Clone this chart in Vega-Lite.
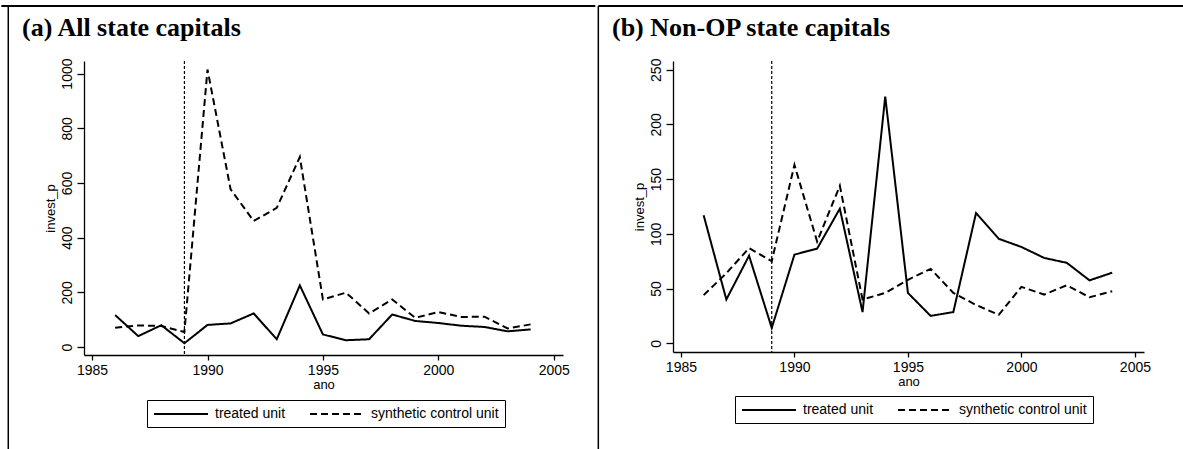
{
  "$schema": "https://vega.github.io/schema/vega-lite/v6.json",
  "background": "white",
  "padding": {"left": 0, "top": 4, "right": 0, "bottom": 0},
  "datasets": {
    "a": [
      {"ano": 1986, "series": "treated unit", "invest_p": 117},
      {"ano": 1987, "series": "treated unit", "invest_p": 40},
      {"ano": 1988, "series": "treated unit", "invest_p": 80},
      {"ano": 1989, "series": "treated unit", "invest_p": 14},
      {"ano": 1990, "series": "treated unit", "invest_p": 81},
      {"ano": 1991, "series": "treated unit", "invest_p": 86.5},
      {"ano": 1992, "series": "treated unit", "invest_p": 123},
      {"ano": 1993, "series": "treated unit", "invest_p": 28.5},
      {"ano": 1994, "series": "treated unit", "invest_p": 225.5},
      {"ano": 1995, "series": "treated unit", "invest_p": 46},
      {"ano": 1996, "series": "treated unit", "invest_p": 25},
      {"ano": 1997, "series": "treated unit", "invest_p": 28.5},
      {"ano": 1998, "series": "treated unit", "invest_p": 119},
      {"ano": 1999, "series": "treated unit", "invest_p": 95.5},
      {"ano": 2000, "series": "treated unit", "invest_p": 88},
      {"ano": 2001, "series": "treated unit", "invest_p": 78},
      {"ano": 2002, "series": "treated unit", "invest_p": 73.5},
      {"ano": 2003, "series": "treated unit", "invest_p": 57.5},
      {"ano": 2004, "series": "treated unit", "invest_p": 64.5},
      {"ano": 1986, "series": "synthetic control unit", "invest_p": 71},
      {"ano": 1987, "series": "synthetic control unit", "invest_p": 79},
      {"ano": 1988, "series": "synthetic control unit", "invest_p": 77},
      {"ano": 1989, "series": "synthetic control unit", "invest_p": 55},
      {"ano": 1990, "series": "synthetic control unit", "invest_p": 1015},
      {"ano": 1991, "series": "synthetic control unit", "invest_p": 577},
      {"ano": 1992, "series": "synthetic control unit", "invest_p": 461},
      {"ano": 1993, "series": "synthetic control unit", "invest_p": 509},
      {"ano": 1994, "series": "synthetic control unit", "invest_p": 695},
      {"ano": 1995, "series": "synthetic control unit", "invest_p": 174},
      {"ano": 1996, "series": "synthetic control unit", "invest_p": 199},
      {"ano": 1997, "series": "synthetic control unit", "invest_p": 123},
      {"ano": 1998, "series": "synthetic control unit", "invest_p": 174},
      {"ano": 1999, "series": "synthetic control unit", "invest_p": 107},
      {"ano": 2000, "series": "synthetic control unit", "invest_p": 128},
      {"ano": 2001, "series": "synthetic control unit", "invest_p": 110},
      {"ano": 2002, "series": "synthetic control unit", "invest_p": 111},
      {"ano": 2003, "series": "synthetic control unit", "invest_p": 68},
      {"ano": 2004, "series": "synthetic control unit", "invest_p": 83}
    ],
    "b": [
      {"ano": 1986, "series": "treated unit", "invest_p": 117},
      {"ano": 1987, "series": "treated unit", "invest_p": 40},
      {"ano": 1988, "series": "treated unit", "invest_p": 80},
      {"ano": 1989, "series": "treated unit", "invest_p": 14},
      {"ano": 1990, "series": "treated unit", "invest_p": 81},
      {"ano": 1991, "series": "treated unit", "invest_p": 86.5},
      {"ano": 1992, "series": "treated unit", "invest_p": 123},
      {"ano": 1993, "series": "treated unit", "invest_p": 28.5},
      {"ano": 1994, "series": "treated unit", "invest_p": 225.5},
      {"ano": 1995, "series": "treated unit", "invest_p": 46},
      {"ano": 1996, "series": "treated unit", "invest_p": 25},
      {"ano": 1997, "series": "treated unit", "invest_p": 28.5},
      {"ano": 1998, "series": "treated unit", "invest_p": 119},
      {"ano": 1999, "series": "treated unit", "invest_p": 95.5},
      {"ano": 2000, "series": "treated unit", "invest_p": 88},
      {"ano": 2001, "series": "treated unit", "invest_p": 78},
      {"ano": 2002, "series": "treated unit", "invest_p": 73.5},
      {"ano": 2003, "series": "treated unit", "invest_p": 57.5},
      {"ano": 2004, "series": "treated unit", "invest_p": 64.5},
      {"ano": 1986, "series": "synthetic control unit", "invest_p": 44},
      {"ano": 1987, "series": "synthetic control unit", "invest_p": 64},
      {"ano": 1988, "series": "synthetic control unit", "invest_p": 87},
      {"ano": 1989, "series": "synthetic control unit", "invest_p": 75},
      {"ano": 1990, "series": "synthetic control unit", "invest_p": 163},
      {"ano": 1991, "series": "synthetic control unit", "invest_p": 93},
      {"ano": 1992, "series": "synthetic control unit", "invest_p": 144},
      {"ano": 1993, "series": "synthetic control unit", "invest_p": 40},
      {"ano": 1994, "series": "synthetic control unit", "invest_p": 46},
      {"ano": 1995, "series": "synthetic control unit", "invest_p": 58},
      {"ano": 1996, "series": "synthetic control unit", "invest_p": 68},
      {"ano": 1997, "series": "synthetic control unit", "invest_p": 46},
      {"ano": 1998, "series": "synthetic control unit", "invest_p": 35},
      {"ano": 1999, "series": "synthetic control unit", "invest_p": 26},
      {"ano": 2000, "series": "synthetic control unit", "invest_p": 51.5},
      {"ano": 2001, "series": "synthetic control unit", "invest_p": 44.5},
      {"ano": 2002, "series": "synthetic control unit", "invest_p": 53},
      {"ano": 2003, "series": "synthetic control unit", "invest_p": 42},
      {"ano": 2004, "series": "synthetic control unit", "invest_p": 47.5}
    ],
    "vline": [{"ano": 1989}],
    "frameA": [{"x1": 1981.07, "x2": 2006.8, "xv": 1981.37, "ytop": 1247, "ybot": -376}],
    "frameB": [{"x1": 1981.36, "x2": 2007.18, "xv": 1981.36, "ytop": 308.3, "ybot": -97.6}]
  },
  "spacing": 0,
  "hconcat": [
    {
      "title": {"text": "(a) All state capitals", "frame": "group", "dx": -62, "offset": -36},
      "width": 479,
      "height": 294,
      "layer": [
        {
          "data": {"name": "frameA"},
          "mark": {"type": "rule", "color": "black", "strokeWidth": 2, "clip": false},
          "encoding": {
            "x": {"field": "x1", "type": "quantitative", "scale": {"domain": [1984.65, 2005.4], "nice": false, "zero": false}},
            "x2": {"field": "x2"},
            "y": {"field": "ytop", "type": "quantitative", "scale": {"domain": [-29, 1046], "nice": false, "zero": false}}
          }
        },
        {
          "data": {"name": "frameA"},
          "mark": {"type": "rule", "color": "black", "strokeWidth": 1.5, "clip": false},
          "encoding": {
            "x": {"field": "xv", "type": "quantitative", "scale": {"domain": [1984.65, 2005.4], "nice": false, "zero": false}},
            "y": {"field": "ytop", "type": "quantitative", "scale": {"domain": [-29, 1046], "nice": false, "zero": false}},
            "y2": {"field": "ybot"}
          }
        },
        {
          "data": {"name": "vline"},
          "mark": {"type": "rule", "color": "black", "strokeWidth": 1.2, "strokeDash": [3, 2]},
          "encoding": {
            "x": {"field": "ano", "type": "quantitative", "scale": {"domain": [1984.65, 2005.4], "nice": false, "zero": false}}
          }
        },
        {
          "data": {"name": "a"},
          "mark": {"type": "line", "color": "black", "strokeWidth": 2},
          "encoding": {
            "x": {"field": "ano", "type": "quantitative", "scale": {"domain": [1984.65, 2005.4], "nice": false, "zero": false}, "axis": {"values": [1985, 1990, 1995, 2000, 2005], "format": "d", "title": "ano"}},
            "y": {"field": "invest_p", "type": "quantitative", "scale": {"domain": [-29, 1046], "nice": false, "zero": false}, "axis": {"values": [0, 200, 400, 600, 800, 1000], "format": "d", "title": "invest_p"}},
            "strokeDash": {"field": "series", "type": "nominal", "scale": {"domain": ["treated unit", "synthetic control unit"], "range": [[1, 0], [7, 4]]}, "legend": {"orient": "none", "legendX": 63, "legendY": 339}}
          }
        }
      ]
    },
    {
      "title": {"text": "(b) Non-OP state capitals", "frame": "group", "dx": -61, "offset": -36},
      "width": 471,
      "height": 291,
      "layer": [
        {
          "data": {"name": "frameB"},
          "mark": {"type": "rule", "color": "black", "strokeWidth": 2, "clip": false},
          "encoding": {
            "x": {"field": "x1", "type": "quantitative", "scale": {"domain": [1984.65, 2005.4], "nice": false, "zero": false}},
            "x2": {"field": "x2"},
            "y": {"field": "ytop", "type": "quantitative", "scale": {"domain": [-8, 258], "nice": false, "zero": false}}
          }
        },
        {
          "data": {"name": "frameB"},
          "mark": {"type": "rule", "color": "black", "strokeWidth": 1.5, "clip": false},
          "encoding": {
            "x": {"field": "xv", "type": "quantitative", "scale": {"domain": [1984.65, 2005.4], "nice": false, "zero": false}},
            "y": {"field": "ytop", "type": "quantitative", "scale": {"domain": [-8, 258], "nice": false, "zero": false}},
            "y2": {"field": "ybot"}
          }
        },
        {
          "data": {"name": "vline"},
          "mark": {"type": "rule", "color": "black", "strokeWidth": 1.2, "strokeDash": [3, 2]},
          "encoding": {
            "x": {"field": "ano", "type": "quantitative", "scale": {"domain": [1984.65, 2005.4], "nice": false, "zero": false}}
          }
        },
        {
          "data": {"name": "b"},
          "mark": {"type": "line", "color": "black", "strokeWidth": 2},
          "encoding": {
            "x": {"field": "ano", "type": "quantitative", "scale": {"domain": [1984.65, 2005.4], "nice": false, "zero": false}, "axis": {"values": [1985, 1990, 1995, 2000, 2005], "format": "d", "title": "ano"}},
            "y": {"field": "invest_p", "type": "quantitative", "scale": {"domain": [-8, 258], "nice": false, "zero": false}, "axis": {"values": [0, 50, 100, 150, 200, 250], "format": "d", "title": "invest_p"}},
            "strokeDash": {"field": "series", "type": "nominal", "scale": {"domain": ["treated unit", "synthetic control unit"], "range": [[1, 0], [7, 4]]}, "legend": {"orient": "none", "legendX": 62, "legendY": 335}}
          }
        }
      ]
    }
  ],
  "resolve": {"scale": {"x": "independent", "y": "independent", "strokeDash": "independent"}, "legend": {"strokeDash": "independent"}},
  "config": {
    "font": "Liberation Sans",
    "view": {"stroke": null},
    "axis": {
      "grid": false,
      "domainColor": "black",
      "domainWidth": 1.3,
      "tickColor": "black",
      "tickWidth": 1.3,
      "labelFont": "'Liberation Sans Narrow', 'Liberation Sans', sans-serif",
      "labelFontSize": 14,
      "labelColor": "black",
      "titleFont": "'Liberation Sans Narrow', 'Liberation Sans', sans-serif",
      "titleFontSize": 13,
      "titleFontWeight": "normal",
      "titleColor": "black"
    },
    "axisX": {"tickSize": 5, "labelPadding": 3, "titlePadding": 1, "labelFlush": false},
    "axisY": {"tickSize": 7, "labelAngle": -90, "labelPadding": 3, "titlePadding": 3},
    "legend": {
      "title": null,
      "direction": "horizontal",
      "strokeColor": "black",
      "padding": 6,
      "labelFont": "Liberation Sans",
      "labelFontSize": 14,
      "labelColor": "black",
      "labelOffset": 46,
      "columnPadding": 20,
      "symbolType": "M-1,0H6.714",
      "symbolSize": 196,
      "symbolStrokeWidth": 1.8,
      "symbolStrokeColor": "black"
    },
    "title": {
      "font": "Liberation Serif",
      "fontSize": 26,
      "fontWeight": "bold",
      "anchor": "start",
      "color": "black",
      "baseline": "alphabetic"
    }
  }
}
